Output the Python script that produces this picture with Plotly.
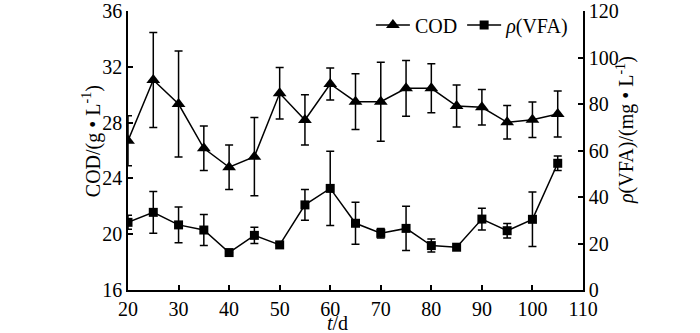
import plotly.graph_objects as go

days = [20, 25, 30, 35, 40, 45, 50, 55, 60, 65, 70, 75, 80, 85, 90, 95, 100, 105]
cod = [26.7, 31.05, 29.33, 26.16, 24.8, 25.56, 30.1, 28.19, 30.77, 29.5, 29.5, 30.46, 30.46, 29.19, 29.1, 28.02, 28.21, 28.62]
cod_err = [1.8, 3.4, 3.8, 1.6, 1.6, 2.8, 1.85, 1.8, 1.15, 2.0, 2.83, 2.0, 1.76, 1.5, 1.28, 1.2, 1.27, 1.65]
vfa = [29.1, 33.4, 28.0, 25.8, 16.1, 23.5, 19.4, 36.6, 43.7, 28.7, 24.4, 26.5, 19.1, 18.4, 30.5, 25.5, 30.4, 54.5]
vfa_err = [3.0, 9.0, 7.7, 6.7, 0.0, 3.5, 0.0, 6.6, 16.0, 9.0, 2.0, 9.5, 2.8, 0.0, 4.7, 3.1, 11.7, 3.1]

FONT = "Liberation Serif, Times New Roman, serif"
FS = 20

fig = go.Figure()
fig.add_trace(go.Scatter(
    x=days, y=cod, name="COD", mode="lines+markers",
    line=dict(color="black", width=1.5),
    marker=dict(symbol="triangle-up", size=12, color="black"),
    error_y=dict(type="data", array=cod_err, visible=True, color="black", thickness=1.5, width=4),
))
fig.add_trace(go.Scatter(
    x=days, y=vfa, name="<i>ρ</i>(VFA)", mode="lines+markers", yaxis="y2",
    line=dict(color="black", width=1.5),
    marker=dict(symbol="square", size=9, color="black"),
    error_y=dict(type="data", array=vfa_err, visible=True, color="black", thickness=1.5, width=4),
))

axis_common = dict(showline=True, linecolor="black", linewidth=1.5, ticks="inside", ticklen=5,
                   tickcolor="black", tickwidth=1.5, showgrid=False, zeroline=False,
                   ticklabeloverflow="allow",
                   tickfont=dict(family=FONT, size=FS, color="black"))

annots = [
    dict(text="COD/(g • L<sup>-1</sup>)", x=-0.081, y=0.534, textangle=-90),
    dict(text="<i>ρ</i>(VFA)/(mg • L<sup>-1</sup>)", x=1.092, y=0.573, textangle=-90),
    dict(text="<i>t</i>/d", x=0.4615, y=-0.118, textangle=0),
]

fig.update_layout(
    width=700, height=333,
    margin=dict(l=128, r=117, t=11, b=43, autoexpand=False),
    paper_bgcolor="white", plot_bgcolor="white",
    font=dict(family=FONT, size=FS, color="black"),
    showlegend=True,
    legend=dict(orientation="h", x=0.98, xanchor="right", y=1.02, yanchor="top",
                bgcolor="rgba(0,0,0,0)", font=dict(family=FONT, size=FS), itemwidth=34,
                tracegroupgap=0),
    xaxis=dict(range=[20, 110], dtick=10, tick0=20, **axis_common),
    yaxis=dict(range=[16, 36], dtick=4, tick0=16, **axis_common),
    yaxis2=dict(range=[0, 120], dtick=20, tick0=0, overlaying="y", side="right", **axis_common),
    annotations=[dict(xref="paper", yref="paper", xanchor="center", yanchor="middle",
                      showarrow=False, font=dict(family=FONT, size=FS, color="black"), **a)
                 for a in annots],
)

fig.write_html("out.html", config={"displayModeBar": False},
               post_script="document.body.style.margin='0';")
